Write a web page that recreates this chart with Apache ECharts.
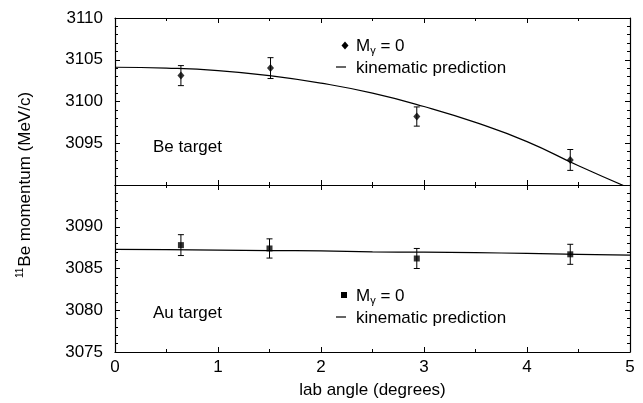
<!DOCTYPE html>
<html>
<head>
<meta charset="utf-8">
<script src="https://cdn.jsdelivr.net/npm/echarts@6/dist/echarts.min.js"></script>
<style>
  html, body { margin: 0; padding: 0; background: #fff; }
  #chart { width: 643px; height: 403px; }
</style>
</head>
<body>
<div id="chart"></div>
<script>
// measured points (angle in degrees, momentum in MeV/c, error)
const beAngle = [0.64, 1.51, 2.93, 4.42];
const beMomentum = [3103.1, 3104.0, 3098.2, 3093.0];
const beError = [1.2, 1.25, 1.15, 1.25];

const auAngle = [0.64, 1.50, 2.93, 4.42];
const auMomentum = [3087.8, 3087.4, 3086.2, 3086.7];
const auError = [1.25, 1.15, 1.2, 1.2];

// kinematic prediction curves
const fitAngle = [0, 0.5, 1, 1.5, 2, 2.5, 3, 3.5, 4, 4.5, 5];
const beFit = [3104.1, 3104.0, 3103.7, 3103.1, 3102.2, 3101.0, 3099.4, 3097.5, 3095.2, 3092.3, 3089.6];
const auFit = [3087.3, 3087.25, 3087.2, 3087.15, 3087.1, 3087.0, 3086.95, 3086.9, 3086.8, 3086.7, 3086.6];

const xTicks = [0, 1, 2, 3, 4, 5];
const beRange = [3090, 3110];
const auRange = [3075, 3095];

const FONT = 'Liberation Sans, Arial, Helvetica, sans-serif';
const ink = '#000';

const chart = echarts.init(document.getElementById('chart'), null, { renderer: 'canvas' });

const zip3 = (a, b, c) => a.map((v, i) => [v, b[i], c[i]]);
const zip2 = (a, b) => a.map((v, i) => [v, b[i]]);

function errorBars(params, api) {
  const x = api.value(0), y = api.value(1), e = api.value(2);
  const hi = api.coord([x, y + e]);
  const lo = api.coord([x, y - e]);
  const cap = 3;
  const st = { stroke: ink, lineWidth: 1 };
  return {
    type: 'group',
    children: [
      { type: 'line', shape: { x1: hi[0], y1: hi[1], x2: lo[0], y2: lo[1] }, style: st },
      { type: 'line', shape: { x1: hi[0] - cap, y1: hi[1], x2: hi[0] + cap, y2: hi[1] }, style: st },
      { type: 'line', shape: { x1: lo[0] - cap, y1: lo[1], x2: lo[0] + cap, y2: lo[1] }, style: st },
    ],
  };
}

const tickCommon = {
  axisLine: { show: true, onZero: false, lineStyle: { color: ink, width: 1.2 } },
  axisTick: { show: true, inside: true, length: 5, lineStyle: { color: ink, width: 1 } },
  minorTick: { show: true, length: 3, lineStyle: { color: ink, width: 1 } },
  splitLine: { show: false },
};

function xAx(grid, pos, labels) {
  return Object.assign({
    type: 'value', gridIndex: grid, position: pos, min: 0, max: 5, interval: 1,
    axisLabel: { show: labels, color: ink, fontSize: 17, fontFamily: FONT, margin: 7 },
  }, tickCommon, { minorTick: Object.assign({ splitNumber: 2 }, tickCommon.minorTick) });
}

function yAx(grid, pos, range, labels) {
  return Object.assign({
    type: 'value', gridIndex: grid, position: pos, min: range[0], max: range[1], interval: 5,
    axisLabel: {
      show: labels, color: ink, fontSize: 17, fontFamily: FONT, margin: 12,
      formatter: v => (grid === 0 && v === range[0]) || (grid === 1 && v === range[1]) ? '' : String(v),
    },
  }, tickCommon, { minorTick: Object.assign({ splitNumber: 5 }, tickCommon.minorTick) });
}

const xAxes = [xAx(0, 'bottom', false), xAx(0, 'top', false), xAx(1, 'bottom', true), xAx(1, 'top', false)];
Object.assign(xAxes[2], {
  name: 'lab angle (degrees)', nameLocation: 'middle', nameGap: 30,
  nameTextStyle: { color: ink, fontSize: 17, fontFamily: FONT },
});

const txt = { fill: ink, fontSize: 17, fontFamily: FONT };

chart.setOption({
  backgroundColor: '#fff',
  animation: false,
  grid: [
    { left: 115, right: 13, top: 18, height: 167 },
    { left: 115, right: 13, top: 185, height: 167 },
  ],
  xAxis: xAxes,
  yAxis: [
    yAx(0, 'left', beRange, true), yAx(0, 'right', beRange, false),
    yAx(1, 'left', auRange, true), yAx(1, 'right', auRange, false),
  ],
  series: [
    {
      name: 'Be fit', type: 'line', xAxisIndex: 0, yAxisIndex: 0, data: zip2(fitAngle, beFit),
      smooth: true, symbol: 'none', clip: true, lineStyle: { color: ink, width: 1.2 },
    },
    {
      name: 'Be err', type: 'custom', xAxisIndex: 0, yAxisIndex: 0, renderItem: errorBars,
      data: zip3(beAngle, beMomentum, beError), encode: { x: 0, y: [1] }, z: 3,
    },
    {
      name: 'Be', type: 'scatter', xAxisIndex: 0, yAxisIndex: 0, data: zip2(beAngle, beMomentum),
      symbol: 'diamond', symbolSize: [7, 8], itemStyle: { color: ink }, z: 4,
    },
    {
      name: 'Au fit', type: 'line', xAxisIndex: 2, yAxisIndex: 2, data: zip2(fitAngle, auFit),
      smooth: true, symbol: 'none', lineStyle: { color: ink, width: 1.2 },
    },
    {
      name: 'Au err', type: 'custom', xAxisIndex: 2, yAxisIndex: 2, renderItem: errorBars,
      data: zip3(auAngle, auMomentum, auError), encode: { x: 0, y: [1] }, z: 3,
    },
    {
      name: 'Au', type: 'scatter', xAxisIndex: 2, yAxisIndex: 2, data: zip2(auAngle, auMomentum),
      symbol: 'rect', symbolSize: 6, itemStyle: { color: ink }, z: 4,
    },
  ],
  graphic: [
    // y-axis title, spans both panels
    {
      type: 'text', x: 25, y: 185, rotation: Math.PI / 2,
      style: {
        text: '{s|11}Be momentum (MeV/c)', align: 'center', verticalAlign: 'middle',
        fill: ink, fontSize: 17, fontFamily: FONT,
        rich: { s: { fontSize: 10, fontFamily: FONT, fill: ink, verticalAlign: 'top', padding: [0, 1, 9, 0] } },
      },
    },
    { type: 'text', x: 153, y: 147, style: Object.assign({ text: 'Be target', verticalAlign: 'middle' }, txt) },
    { type: 'text', x: 153, y: 313, style: Object.assign({ text: 'Au target', verticalAlign: 'middle' }, txt) },
    // top legend
    { type: 'polygon', shape: { points: [[345, 41.5], [348.5, 45.5], [345, 49.5], [341.5, 45.5]] }, style: { fill: ink } },
    {
      type: 'text', x: 356, y: 46,
      style: Object.assign({
        text: 'M{g|γ} = 0', verticalAlign: 'middle',
        rich: { g: { fontSize: 11, fontFamily: FONT, fill: ink, verticalAlign: 'bottom', padding: [10, 0, 0, 0] } },
      }, txt),
    },
    { type: 'line', shape: { x1: 336, y1: 67, x2: 346, y2: 67 }, style: { stroke: ink, lineWidth: 1.2 } },
    { type: 'text', x: 356, y: 68, style: Object.assign({ text: 'kinematic prediction', verticalAlign: 'middle' }, txt) },
    // bottom legend
    { type: 'rect', shape: { x: 341, y: 292, width: 6, height: 6 }, style: { fill: ink } },
    {
      type: 'text', x: 356, y: 296,
      style: Object.assign({
        text: 'M{g|γ} = 0', verticalAlign: 'middle',
        rich: { g: { fontSize: 11, fontFamily: FONT, fill: ink, verticalAlign: 'bottom', padding: [10, 0, 0, 0] } },
      }, txt),
    },
    { type: 'line', shape: { x1: 336, y1: 317, x2: 346, y2: 317 }, style: { stroke: ink, lineWidth: 1.2 } },
    { type: 'text', x: 356, y: 318, style: Object.assign({ text: 'kinematic prediction', verticalAlign: 'middle' }, txt) },
  ],
});
</script>
</body>
</html>
